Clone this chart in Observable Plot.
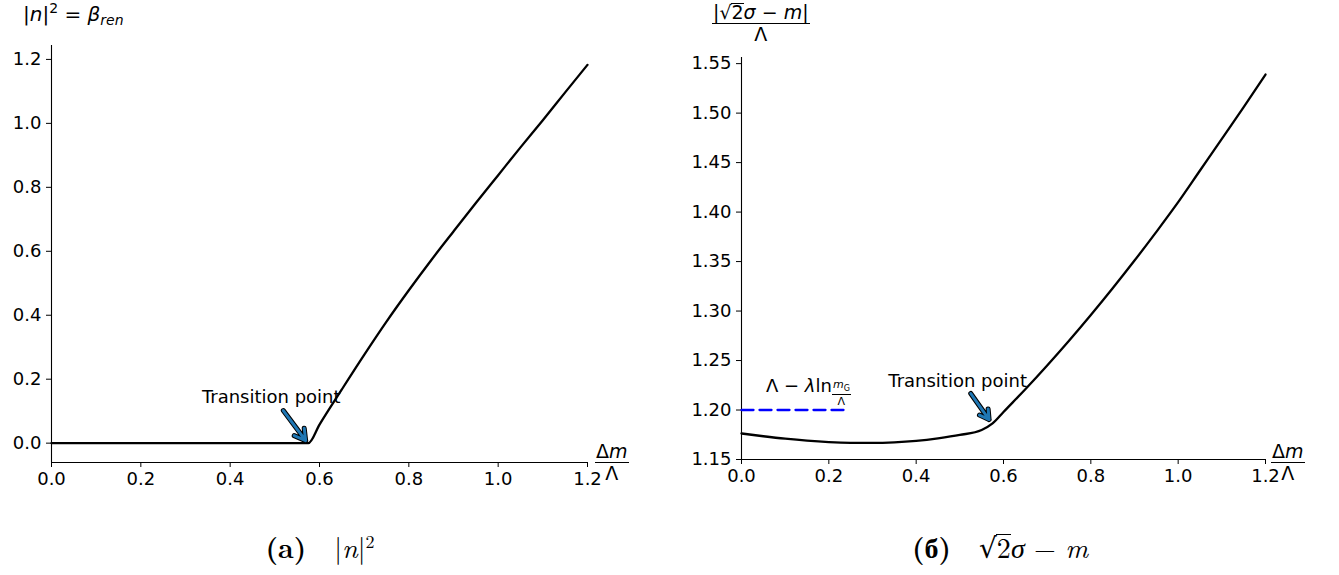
<!DOCTYPE html>
<html>
<head>
<meta charset="utf-8">
<script src="https://cdn.jsdelivr.net/npm/d3@7"></script>
<script src="https://cdn.jsdelivr.net/npm/@observablehq/plot@0.6"></script>
<style>
  html, body { margin: 0; padding: 0; background: #fff; }
  #wrap { position: relative; width: 1339px; height: 575px; background: #fff; font-family: "DejaVu Sans", sans-serif; color: #000; overflow: hidden; }
  .abs { position: absolute; white-space: nowrap; }
  .frac { display: inline-flex; flex-direction: column; align-items: center; vertical-align: middle; line-height: 1; }
  .frac .num { border-bottom: 1.8px solid #000; padding: 0 1px 1px 1px; }
  .frac .den { padding-top: 1px; }
  .cap { font-family: "Latin Modern Roman", "Liberation Serif", serif; font-size: 28px; }
  .rs { display: inline-block; line-height: 1; }
  .rb { display: inline-block; border-top: 1.5px solid #000; line-height: 0.9; margin-left: -1px; padding-left: 1px; }
  i { font-style: italic; }
</style>
</head>
<body>
<div id="wrap"></div>
<script>
// ---- Panel (a): |n|^2 vs Δm/Λ ----
const xA = [0, 0.1, 0.2, 0.3, 0.4, 0.5, 0.575, 0.6, 0.65, 0.7, 0.75, 0.8, 0.85, 0.9, 0.95, 1.0, 1.05, 1.1, 1.15, 1.2];
const nSq = [0, 0, 0, 0, 0, 0, 0, 0.058, 0.168, 0.276, 0.38, 0.478, 0.572, 0.662, 0.751, 0.838, 0.925, 1.01, 1.097, 1.183];
const yTicksA = [0, 0.2, 0.4, 0.6, 0.8, 1.0, 1.2];

// ---- Panel (б): |√2σ − m|/Λ vs Δm/Λ ----
const xB = [0, 0.05, 0.1, 0.15, 0.2, 0.25, 0.3, 0.35, 0.4, 0.45, 0.5, 0.55, 0.575, 0.6, 0.65, 0.7, 0.75, 0.8, 0.85, 0.9, 0.95, 1.0, 1.05, 1.1, 1.15, 1.2];
const sigmaM = [1.1763, 1.1735, 1.171, 1.169, 1.1676, 1.1669, 1.1668, 1.1674, 1.1689, 1.1714, 1.1748, 1.1798, 1.1864, 1.198, 1.221, 1.245, 1.27, 1.296, 1.323, 1.351, 1.38, 1.41, 1.442, 1.474, 1.506, 1.539];
const yTicksB = [1.15, 1.20, 1.25, 1.30, 1.35, 1.40, 1.45, 1.50, 1.55];
const xTicks = [0, 0.2, 0.4, 0.6, 0.8, 1.0, 1.2];

// reference line Λ − λ ln(m_G/Λ)
const refX = [0, 0.24];
const refY = 1.20;

// annotations
const annA = {text: "Transition point", tx: 0.492, ty: 0.143, x1: 0.519, y1: 0.102, x2: 0.569, y2: 0.008};
const annB = {text: "Transition point", tx: 0.495, ty: 1.229, x1: 0.525, y1: 1.2167, x2: 0.567, y2: 1.1904};

const wrap = document.getElementById("wrap");
const blue = "#1f77b4";
const FS = 18;

function arrowMarks(a) {
  return [
    Plot.arrow([a], {x1: "x1", y1: "y1", x2: "x2", y2: "y2", stroke: "#000", strokeWidth: 5, headLength: 9, bend: 0}),
    Plot.arrow([a], {x1: "x1", y1: "y1", x2: "x2", y2: "y2", stroke: blue, strokeWidth: 3, headLength: 8, bend: 0}),
    Plot.text([a], {x: "tx", y: "ty", text: "text", fontSize: FS, fill: "#000", textAnchor: "middle"})
  ];
}

const commonStyle = {fontFamily: "DejaVu Sans, sans-serif", fontSize: FS + "px", color: "#000", background: "transparent", overflow: "visible"};

const dataA = xA.map((x, i) => ({x, y: nSq[i]}));
const yDomA = [-0.0605, 1.2435];
const plotA = Plot.plot({
  width: 640, height: 500,
  marginLeft: 51, marginRight: 53, marginTop: 45, marginBottom: 38,
  style: commonStyle,
  x: {domain: [0, 1.2], label: null},
  y: {domain: yDomA, label: null},
  marks: [
    Plot.axisX({ticks: xTicks, tickFormat: d => d.toFixed(1), tickSize: 5, tickPadding: 5, label: null, fontSize: FS}),
    Plot.axisY({ticks: yTicksA, tickFormat: d => d.toFixed(1), tickSize: 5, tickPadding: 5, label: null, fontSize: FS}),
    Plot.ruleX([0], {stroke: "#000", strokeWidth: 1.1}),
    Plot.ruleY([yDomA[0]], {stroke: "#000", strokeWidth: 1.1}),
    Plot.line(dataA, {x: "x", y: "y", stroke: "#000", strokeWidth: 2.3, curve: "monotone-x"}),
    ...arrowMarks(annA)
  ]
});
plotA.style.position = "absolute";
plotA.style.left = "0px";
plotA.style.top = "0px";
wrap.appendChild(plotA);

const dataB = xB.map((x, i) => ({x, y: sigmaM[i]}));
const yDomB = [1.15, 1.5562];
const plotB = Plot.plot({
  width: 659, height: 500,
  marginLeft: 61, marginRight: 74, marginTop: 57, marginBottom: 41,
  style: commonStyle,
  x: {domain: [0, 1.2], label: null},
  y: {domain: yDomB, label: null},
  marks: [
    Plot.axisX({ticks: xTicks, tickFormat: d => d.toFixed(1), tickSize: 5, tickPadding: 5, label: null, fontSize: FS}),
    Plot.axisY({ticks: yTicksB, tickFormat: d => d.toFixed(2), tickSize: 5, tickPadding: 5, label: null, fontSize: FS}),
    Plot.ruleX([0], {stroke: "#000", strokeWidth: 1.1}),
    Plot.ruleY([yDomB[0]], {stroke: "#000", strokeWidth: 1.1}),
    Plot.line(refX.map(x => ({x, y: refY})), {x: "x", y: "y", stroke: "#0000ff", strokeWidth: 2.3, strokeDasharray: "12,6"}),
    Plot.line(dataB, {x: "x", y: "y", stroke: "#000", strokeWidth: 2.3, curve: "monotone-x"}),
    ...arrowMarks(annB)
  ]
});
plotB.style.position = "absolute";
plotB.style.left = "680px";
plotB.style.top = "0px";
wrap.appendChild(plotB);

// ---- text labels (HTML overlays) ----
function addHTML(html, left, top, extra, cls) {
  const d = document.createElement("div");
  d.className = "abs" + (cls ? " " + cls : "");
  d.innerHTML = html;
  d.style.left = left + "px";
  d.style.top = top + "px";
  if (extra) Object.assign(d.style, extra);
  wrap.appendChild(d);
  return d;
}

// y label (a)
addHTML('|<i>n</i>|<sup style="font-size:14px;vertical-align:8px">2</sup> = <i>β</i><sub style="font-size:14px;vertical-align:-4px"><i>ren</i></sub>', 23, 0, {fontSize: "20px"});

// y label (б)
addHTML('<span class="frac"><span class="num">|<span class="rs">√</span><span class="rb">2</span><i>σ</i> − <i>m</i>|</span><span class="den">Λ</span></span>', 712, 3, {fontSize: "19px"});

// x labels
const xlab = '<span class="frac"><span class="num">Δ<i>m</i></span><span class="den">Λ</span></span>';
addHTML(xlab, 595, 442, {fontSize: "19px"});
addHTML(xlab, 1271, 442, {fontSize: "19px"});

// legend-like label for blue dashed line
addHTML('Λ − <i>λ</i>ln<span class="frac" style="font-size:11px;vertical-align:4px"><span class="num" style="border-bottom-width:1px"><i>m</i><sub style="font-size:8px">G</sub></span><span class="den">Λ</span></span>', 766, 375, {fontSize: "18px"});

// captions
addHTML('<b>(a)</b>&nbsp;&nbsp;|<i>n</i>|<sup style="font-size:18px">2</sup>', 0, 526, {width: "640px", textAlign: "center"}, "cap");
addHTML('<b>(б)</b>&nbsp;&nbsp;<span class="rs" style="font-family:DejaVu Serif;font-size:28px">√</span><span class="rb" style="line-height:0.8">2</span><i>σ</i> − <i>m</i>', 680, 526, {width: "640px", textAlign: "center"}, "cap");
</script>
</body>
</html>
